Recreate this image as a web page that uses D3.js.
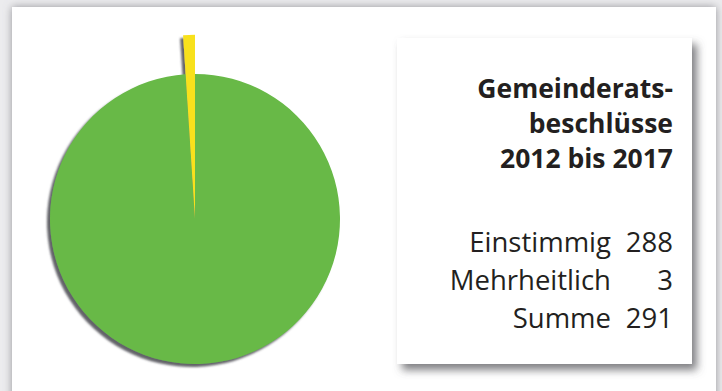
<!DOCTYPE html>
<html>
<head>
<meta charset="utf-8">
<script src="https://cdn.jsdelivr.net/npm/d3@7"></script>
<style>
  body { margin: 0; background: #ffffff; }
  svg { display: block; }
  text { font-family: "Open Sans", Lato, sans-serif; fill: #231f20; }
</style>
</head>
<body>
<div id="chart"></div>
<script>
// Chart data
const categories = ["Einstimmig", "Mehrheitlich"];
const values = [288, 3];
const sliceColors = ["#67b946", "#f8e11f"];
const totalLabel = "Summe";
const titleLines = ["Gemeinderats-", "beschlüsse", "2012 bis 2017"];

const width = 722, height = 391;

const svg = d3.select("#chart")
    .append("svg")
    .attr("width", width)
    .attr("height", height);

const defs = svg.append("defs");

// soft shadow for the panels
const panelShadow = defs.append("filter")
    .attr("id", "panelShadow")
    .attr("x", "-10%").attr("y", "-10%")
    .attr("width", "120%").attr("height", "120%");
panelShadow.append("feDropShadow")
    .attr("dx", 0).attr("dy", 0)
    .attr("stdDeviation", 4)
    .attr("flood-color", "#8a8a90")
    .attr("flood-opacity", 0.9);

const boxShadow = defs.append("filter")
    .attr("id", "boxShadow")
    .attr("x", "-10%").attr("y", "-10%")
    .attr("width", "125%").attr("height", "125%");
boxShadow.append("feDropShadow")
    .attr("dx", 5).attr("dy", 6)
    .attr("stdDeviation", 4)
    .attr("flood-color", "#55555a")
    .attr("flood-opacity", 0.75);

// hard shadow at the lower left of the pie
const pieShadow = defs.append("filter")
    .attr("id", "pieShadow")
    .attr("x", "-10%").attr("y", "-10%")
    .attr("width", "120%").attr("height", "120%");
pieShadow.append("feDropShadow")
    .attr("dx", -3).attr("dy", 3)
    .attr("stdDeviation", 1)
    .attr("flood-color", "#4a4a50")
    .attr("flood-opacity", 0.85);

// background and outer panel
svg.append("rect")
    .attr("width", width).attr("height", height)
    .attr("fill", "#ececee");

svg.append("rect")
    .attr("x", 12).attr("y", 7)
    .attr("width", 704).attr("height", 400)
    .attr("fill", "#ffffff")
    .attr("filter", "url(#panelShadow)");

// Pie
const cx = 195, cy = 219, radius = 145;

const pie = d3.pie().sort(null).value(d => d);
const arcs = pie(values);

// the small slice sticks out above the rest
const arcFor = (d, i) => d3.arc()
    .innerRadius(0)
    .outerRadius(i === 0 ? radius : radius * 1.27)(d);

const pieG = svg.append("g")
    .attr("transform", "translate(" + cx + "," + cy + ")")
    .attr("filter", "url(#pieShadow)");

pieG.selectAll("path")
    .data(arcs)
    .enter().append("path")
    .attr("d", arcFor)
    .attr("fill", (d, i) => sliceColors[i]);

// Legend box
const box = { x: 397, y: 38, w: 295, h: 326 };
svg.append("rect")
    .attr("x", box.x).attr("y", box.y)
    .attr("width", box.w).attr("height", box.h)
    .attr("fill", "#ffffff")
    .attr("filter", "url(#boxShadow)");

const rightX = 673, labelX = 611;

svg.append("g").selectAll("text")
    .data(titleLines)
    .enter().append("text")
    .attr("x", rightX)
    .attr("y", (d, i) => 98 + i * 35)
    .attr("text-anchor", "end")
    .attr("font-weight", "bold")
    .attr("font-size", 26.5)
    .text(d => d);

const rows = categories.map((c, i) => ({ label: c, value: values[i] }))
    .concat([{ label: totalLabel, value: d3.sum(values) }]);

const rowG = svg.append("g").selectAll("g")
    .data(rows)
    .enter().append("g")
    .attr("transform", (d, i) => "translate(0," + (252 + i * 38) + ")");

rowG.append("text")
    .attr("x", labelX)
    .attr("text-anchor", "end")
    .attr("font-size", 27.5)
    .text(d => d.label);

rowG.append("text")
    .attr("x", rightX)
    .attr("text-anchor", "end")
    .attr("font-size", 27.5)
    .text(d => d.value);
</script>
</body>
</html>
